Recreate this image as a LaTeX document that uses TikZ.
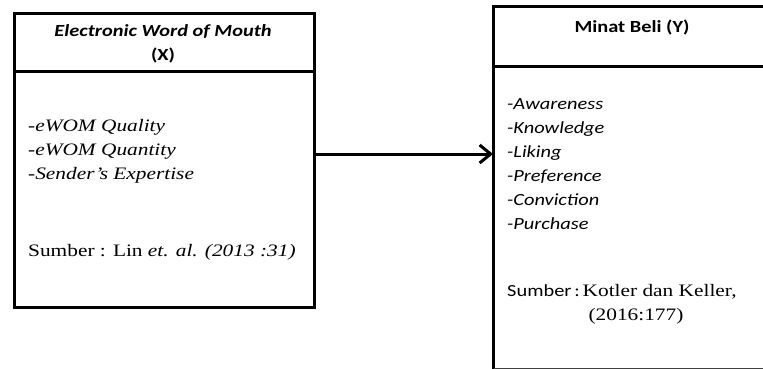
\documentclass[tikz,border=0pt]{standalone}
\usepackage{fontspec}
\usetikzlibrary{arrows.meta}
\newfontfamily\calf[FakeStretch=1.2]{Carlito}
\newfontfamily\tmsf[FakeStretch=1.22]{Liberation Serif}
\tikzset{
  boxline/.style={line width=3pt, line cap=rect},
  txt/.style={inner sep=0pt, anchor=base west, font=\calf\fontsize{17}{20}\selectfont},
  ser/.style={inner sep=0pt, anchor=base west, font=\tmsf\fontsize{17.5}{20}\selectfont},
  head/.style={inner sep=0pt, anchor=base, font=\calf\bfseries\fontsize{17}{20}\selectfont},
}
\begin{document}
\begin{tikzpicture}[x=1pt,y=-1pt]
\useasboundingbox (0,0) rectangle (763,369);
% left box
\draw[boxline] (14,14) rectangle (314,307);
\draw[boxline] (14,72) -- (314,72);
\coordinate (lefte) at (314,154);
% right box
\draw[boxline] (763,6.5) -- (493.5,6.5) -- (493.5,369);
\draw[boxline] (493.5,66.5) -- (763,66.5);
\draw[line width=1pt, black!75] (493.5,368) -- (763,368);
\coordinate (righte) at (493,154);
% headers
\node[head] (hx1) at (163,37) {\itshape Electronic Word of Mouth};
\node[head] (hx2) at (163,61) {(X)};
\node[head] (hy) at (632,33) {Minat Beli (Y)};
% left list
\node[ser] (x1) at (28,131) {\itshape -eWOM Quality};
\node[ser] (x2) at (28,155) {\itshape -eWOM Quantity};
\node[ser] (x3) at (28,179) {\itshape -Sender’s Expertise};
\node[ser] (xs) at (28,256) {Sumber : Lin \textit{et. al. (2013 :31)}};
% right list
\node[txt] (y1) at (507,109) {\itshape -Awareness};
\node[txt] (y2) at (507,133) {\itshape -Knowledge};
\node[txt] (y3) at (507,157) {\itshape -Liking};
\node[txt] (y4) at (507,181) {\itshape -Preference};
\node[txt] (y5) at (507,205) {\itshape -Conviction};
\node[txt] (y6) at (507,229) {\itshape -Purchase};
\node[txt] (ys) at (507,296) {Sumber\,:\,{\tmsf\fontsize{17.5}{20}\selectfont Kotler dan Keller,}};
\node[ser, anchor=base] (ys2) at (636,320) {(2016:177)};
% arrow
\draw[line width=3pt, -{Straight Barb[length=11pt,width=18pt]}] (lefte) -- (righte);
\end{tikzpicture}
\end{document}
